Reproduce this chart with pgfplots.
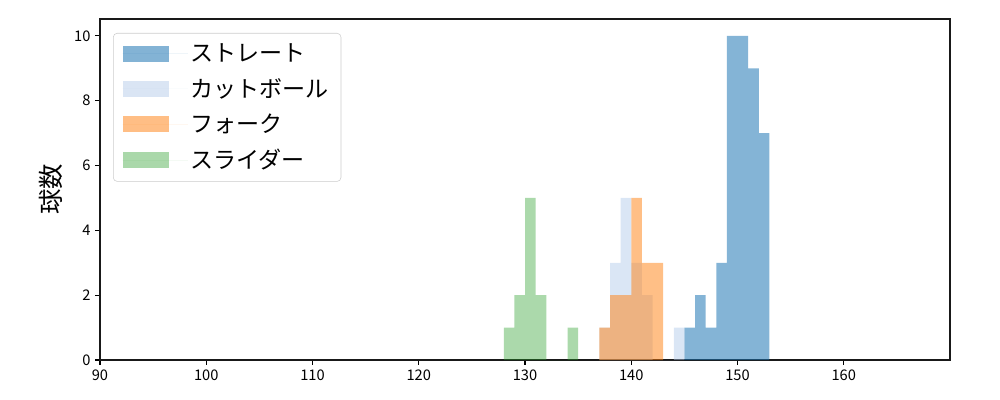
\documentclass[border=0pt]{standalone}
\usepackage{fontspec}
\setmainfont{Noto Sans CJK JP}
\usepackage{pgfplots}
\pgfplotsset{compat=1.18}

\definecolor{cStraight}{HTML}{1F77B4}
\definecolor{cCut}{HTML}{AEC7E8}
\definecolor{cFork}{HTML}{FF7F0E}
\definecolor{cSlider}{HTML}{2CA02C}

\begin{document}
\begin{tikzpicture}
\begin{axis}[
    scale only axis,
    width=637.5pt, height=255.75pt,
    xmin=90, xmax=170,
    ymin=0, ymax=10.52,
    xtick={90,100,...,160},
    ytick={0,2,...,10},
    tick align=outside,
    major tick length=3.6pt,
    tick style={black, line width=0.8pt},
    axis line style={line width=0.85pt, black!90},
    xtick pos=bottom, ytick pos=left,
    ticklabel style={font=\fontsize{11}{13}\selectfont},
    /pgf/number format/assume math mode=true,
    ylabel={球数},
    ylabel style={font=\fontsize{19}{21}\selectfont, yshift=2pt},
    legend cell align=left,
    legend style={
        at={(rel axis cs:0.0153,0.959)}, anchor=north west,
        font=\fontsize{17.3}{19}\selectfont,
        draw=black!20, rounded corners=3pt,
        fill=white, fill opacity=0.8, text opacity=1,
        inner xsep=7pt, inner ysep=6pt,
        row sep=7pt,
    },
    legend image code/.code={
        \fill[#1, sharp corners] (0pt,-6pt) rectangle (35pt,6pt);
        \path (0pt,0pt) -- (49pt,0pt);
    },
]
% ストレート
\addplot[ybar interval, fill=cStraight, fill opacity=0.55, draw=none] coordinates {
(145,1) (146,2) (147,1) (148,3) (149,10) (150,10) (151,9) (152,7) (153,0)};
% カットボール
\addplot[ybar interval, fill=cCut, fill opacity=0.45, draw=none] coordinates {
(137,1) (138,3) (139,5) (140,3) (141,2) (142,0) (143,0) (144,1) (145,0)};
% フォーク
\addplot[ybar interval, fill=cFork, fill opacity=0.5, draw=none] coordinates {
(137,1) (138,2) (139,2) (140,5) (141,3) (142,3) (143,0)};
% スライダー
\addplot[ybar interval, fill=cSlider, fill opacity=0.4, draw=none] coordinates {
(128,1) (129,2) (130,5) (131,2) (132,0) (133,0) (134,1) (135,0)};
\legend{ストレート, カットボール, フォーク, スライダー}
\end{axis}
\pgfresetboundingbox
\path ([shift={(-75pt,-30pt)}]current axis.south west) rectangle ([shift={(37.5pt,14.25pt)}]current axis.north east);
\end{tikzpicture}
\end{document}
